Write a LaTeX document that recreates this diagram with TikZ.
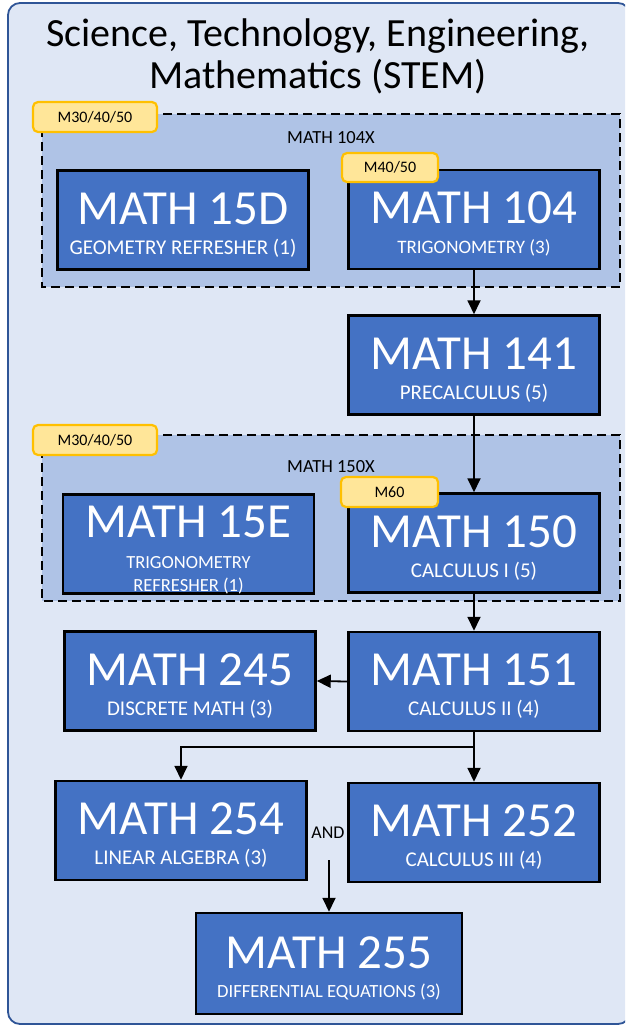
\documentclass[tikz,border=0pt]{standalone}
\usepackage{fontspec}
\setmainfont{Carlito}
\usetikzlibrary{arrows.meta,calc}
\definecolor{panelfill}{HTML}{DFE7F5}
\definecolor{panelline}{HTML}{2F5597}
\definecolor{groupfill}{HTML}{AFC3E6}
\definecolor{boxblue}{HTML}{4472C4}
\definecolor{badgefill}{HTML}{FFE699}
\definecolor{badgeline}{HTML}{FFC000}
\newcommand{\fs}[1]{\fontsize{#1}{#1}\selectfont}
\tikzset{
  panel/.style={fill=panelfill, draw=panelline, line width=1.8pt, rounded corners=12pt},
  groupbg/.style={fill=groupfill, draw=black, line width=2.6pt, dash pattern=on 9pt off 5pt},
  course/.style={rectangle, fill=boxblue, draw=black, line width=2.5pt, minimum width=251pt, minimum height=99pt, inner sep=0pt},
  ctitle/.style={anchor=base, text=white, inner sep=0pt, font=\fs{49}},
  csub/.style={anchor=base, text=white, inner sep=0pt, font=\fs{21}},
  badge/.style={rectangle, rounded corners=5pt, fill=badgefill, draw=badgeline, line width=2.2pt, minimum width=124pt, minimum height=30pt, inner sep=0pt, font=\fs{16}},
  glabel/.style={anchor=base, inner sep=0pt, font=\fs{18.5}},
  conn/.style={draw=black, line width=1.8pt, -{Triangle[width=13pt,length=14pt]}},
  ttl/.style={anchor=base, inner sep=0pt, font=\fs{40}}
}
\begin{document}
\begin{tikzpicture}[x=1pt,y=-1pt]
\useasboundingbox (0,0) rectangle (625,1026);
\clip (0,0) rectangle (625,1026);
% outer panel
\draw[panel] (8,3) rectangle (630,1024);
\node[ttl] (title1) at (318,46) {Science, Technology, Engineering,};
\node[ttl] (title2) at (318,88) {Mathematics (STEM)};
% groups
\draw[groupbg] (42,114) rectangle (620,287);
\node[glabel] (g1label) at (331,143) {MATH 104X};
\draw[groupbg] (42,435) rectangle (620,601);
\node[glabel] (g2label) at (331,472) {MATH 150X};
% courses
\node[course] (m15d) at (183,220) {};
\node[ctitle] (m15dT) at ([yshift=-55pt]m15d.north) {MATH 15D};
\node[csub] (m15dS) at ([yshift=-85pt]m15d.north) {GEOMETRY REFRESHER (1)};

\node[course] (m104) at (474,219.5) {};
\node[ctitle] (m104T) at ([yshift=-55pt]m104.north) {MATH 104};
\node[csub, font=\fs{19}] (m104S) at ([yshift=-85pt]m104.north) {TRIGONOMETRY (3)};

\node[course] (m141) at (474,365) {};
\node[ctitle] (m141T) at ([yshift=-55pt]m141.north) {MATH 141};
\node[csub] (m141S) at ([yshift=-85pt]m141.north) {PRECALCULUS (5)};

\node[course] (m15e) at (188.5,544) {};
\node[ctitle] (m15eT) at ([yshift=-44pt]m15e.north) {MATH 15E};
\node[csub, font=\fs{18.5}] (m15eS1) at ([yshift=-75pt]m15e.north) {TRIGONOMETRY};
\node[csub, font=\fs{18.5}] (m15eS2) at ([yshift=-98pt]m15e.north) {REFRESHER (1)};

\node[course] (m150) at (474,543) {};
\node[ctitle] (m150T) at ([yshift=-55pt]m150.north) {MATH 150};
\node[csub] (m150S) at ([yshift=-85pt]m150.north) {CALCULUS I (5)};

\node[course] (m245) at (190,681) {};
\node[ctitle] (m245T) at ([yshift=-55pt]m245.north) {MATH 245};
\node[csub] (m245S) at ([yshift=-85pt]m245.north) {DISCRETE MATH (3)};

\node[course] (m151) at (474,681.5) {};
\node[ctitle] (m151T) at ([yshift=-55pt]m151.north) {MATH 151};
\node[csub] (m151S) at ([yshift=-85pt]m151.north) {CALCULUS II (4)};

\node[course] (m254) at (181,830.5) {};
\node[ctitle] (m254T) at ([yshift=-55pt]m254.north) {MATH 254};
\node[csub] (m254S) at ([yshift=-85pt]m254.north) {LINEAR ALGEBRA (3)};

\node[course] (m252) at (474,832.5) {};
\node[ctitle] (m252T) at ([yshift=-55pt]m252.north) {MATH 252};
\node[csub] (m252S) at ([yshift=-85pt]m252.north) {CALCULUS III (4)};

\node[course, minimum width=266pt, minimum height=101pt] (m255) at (329,963.5) {};
\node[ctitle] (m255T) at ([yshift=-57pt]m255.north) {MATH 255};
\node[csub, font=\fs{18.6}] (m255S) at ([yshift=-86pt]m255.north) {DIFFERENTIAL EQUATIONS (3)};
% badges
\node[badge] (b1) at (95,117) {M30/40/50};
\node[badge, minimum width=96pt, minimum height=29pt] (b2) at (390,167.5) {M40/50};
\node[badge] (b3) at (95,440) {M30/40/50};
\node[badge, minimum width=97pt] (b4) at (389.5,492) {M60};
% connectors
\draw[conn] (m104.south) -- (m141.north);
\draw[conn] (m141.south) -- (m150.north);
\draw[conn] (m150.south) -- (m151.north);
\draw[conn] (m151.west) -- (m245.east);
\draw[conn] (m151.south) -- (m252.north);
\draw[conn] (m151.south) -- ++(0,15) -| (m254.north);
\node[inner sep=0pt, font=\fs{18}] (and) at (328,833) {AND};
\coordinate (andstart) at (329,860);
\draw[conn] (andstart) -- (m255.north);
\end{tikzpicture}
\end{document}
